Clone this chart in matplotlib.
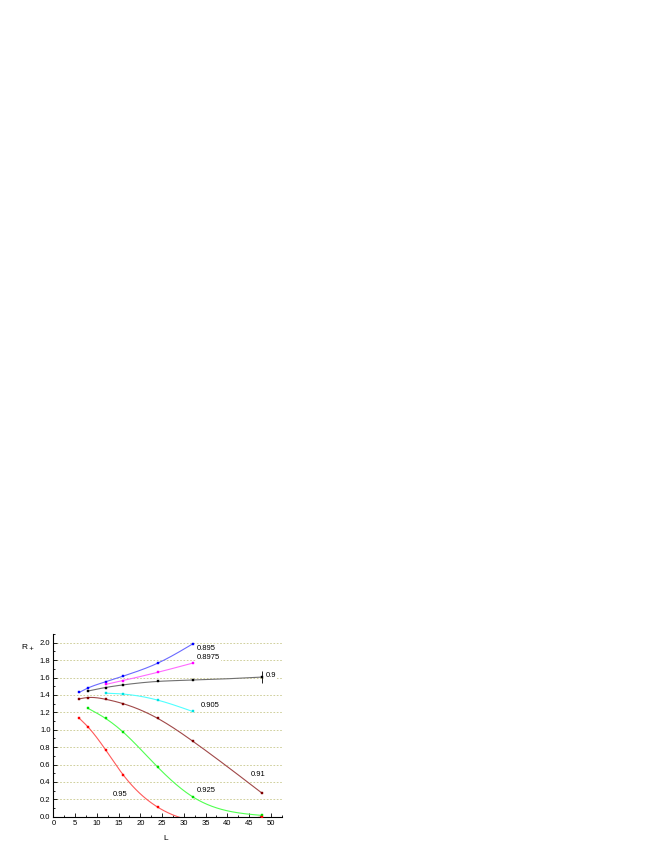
import numpy as np
import matplotlib
matplotlib.use('Agg')
import matplotlib.pyplot as plt
from matplotlib.ticker import MultipleLocator

plt.rcParams['font.family'] = ['Liberation Sans', 'DejaVu Sans']

# data
L_0895 = [6, 8, 12, 16, 24, 32]
R_0895 = [1.43, 1.48, 1.55, 1.615, 1.765, 1.985]

L_08975 = [12, 16, 24, 32]
R_08975 = [1.52, 1.565, 1.66, 1.765]

L_09 = [8, 12, 16, 24, 32, 48]
R_09 = [1.445, 1.485, 1.515, 1.555, 1.57, 1.605]
E_09 = [0.0, 0.0, 0.0, 0.0, 0.0, 0.07]

L_0905 = [12, 16, 24, 32]
R_0905 = [1.42, 1.41, 1.34, 1.21]

L_091 = [6, 8, 12, 16, 24, 32, 48]
R_091 = [1.355, 1.37, 1.35, 1.30, 1.13, 0.87, 0.27]

L_0925 = [8, 12, 16, 24, 32, 48]
R_0925 = [1.245, 1.13, 0.975, 0.57, 0.23, 0.015]

L_095 = [6, 8, 12, 16, 24, 48]
R_095 = [1.13, 1.03, 0.77, 0.485, 0.11, 0.0]

labels = ['0.895', '0.8975', '0.9', '0.905', '0.91', '0.925', '0.95']
label_pos = [(33.0, 1.935), (33.0, 1.83), (48.8, 1.625), (33.9, 1.275),
             (45.4, 0.485), (33.0, 0.30), (13.6, 0.255)]


def natural_spline(x, y, n=300):
    x = np.asarray(x, float)
    y = np.asarray(y, float)
    k = len(x)
    h = np.diff(x)
    A = np.zeros((k, k))
    b = np.zeros(k)
    A[0, 0] = A[-1, -1] = 1
    for i in range(1, k - 1):
        A[i, i - 1] = h[i - 1]
        A[i, i] = 2 * (h[i - 1] + h[i])
        A[i, i + 1] = h[i]
        b[i] = 6 * ((y[i + 1] - y[i]) / h[i] - (y[i] - y[i - 1]) / h[i - 1])
    M = np.linalg.solve(A, b)
    xs = np.linspace(x[0], x[-1], n)
    idx = np.clip(np.searchsorted(x, xs) - 1, 0, k - 2)
    x0, x1 = x[idx], x[idx + 1]
    hh = x1 - x0
    t0, t1 = x1 - xs, xs - x0
    ys = (M[idx] * t0**3 + M[idx + 1] * t1**3) / (6 * hh) \
        + (y[idx] / hh - M[idx] * hh / 6) * t0 \
        + (y[idx + 1] / hh - M[idx + 1] * hh / 6) * t1
    return xs, ys


series = [
    (L_0895, R_0895, '#0000ff', '#6a6aff'),
    (L_08975, R_08975, '#ff00ff', '#ff6aff'),
    (L_09, R_09, '#000000', '#707070'),
    (L_0905, R_0905, '#00e0e0', '#50ffff'),
    (L_091, R_091, '#800000', '#a04848'),
    (L_0925, R_0925, '#00e000', '#50ff50'),
    (L_095, R_095, '#ff0000', '#ff5a5a'),
]

fig = plt.figure(figsize=(6.64, 8.6), dpi=100)
ax = fig.add_axes([0.0803, 0.0503, 0.344, 0.2125])

for yv in np.arange(0.2, 2.01, 0.2):
    ax.axhline(yv, color='#c8c88c', lw=0.6, ls=(0, (2, 2)), zorder=0)

for xs, ys, mc, lc in series:
    sx, sy = natural_spline(xs, ys)
    ax.plot(sx, sy, color=lc, lw=0.8, zorder=2)
    ax.plot(xs, ys, 's', color=mc, ms=2.0, mec=mc, mew=0.3, zorder=3)

ax.errorbar(L_09, R_09, yerr=E_09, fmt='none', ecolor='#000000', elinewidth=0.6, capsize=0, zorder=3)

for txt, (tx, ty) in zip(labels, label_pos):
    ax.text(tx, ty, txt, fontsize=5.5, ha='left', va='center', zorder=4,
            bbox=dict(facecolor='white', edgecolor='none', pad=0.8))

ax.set_xlim(0, 52.5)
ax.set_ylim(0, 2.1)
ax.xaxis.set_major_locator(MultipleLocator(5))
ax.xaxis.set_minor_locator(MultipleLocator(2.5))
ax.yaxis.set_minor_locator(MultipleLocator(0.1))
ax.set_yticks(np.arange(0, 2.01, 0.2))
ax.set_yticklabels([f'{v:.1f}' for v in np.arange(0, 2.01, 0.2)])
ax.tick_params(which='both', direction='in', labelsize=5.5, width=0.6, pad=2)
ax.tick_params(which='major', length=3)
ax.tick_params(which='minor', length=1.5)
ax.spines['top'].set_visible(False)
ax.spines['right'].set_visible(False)
for s in ('left', 'bottom'):
    ax.spines[s].set_linewidth(0.8)

fig.text(166 / 664, 1 - 838 / 860, 'L', fontsize=6, ha='center', va='center')
fig.text(28 / 664, 1 - 648 / 860, r'R$_+$', fontsize=6, ha='center', va='center')

fig.savefig('out.png', dpi=100)
